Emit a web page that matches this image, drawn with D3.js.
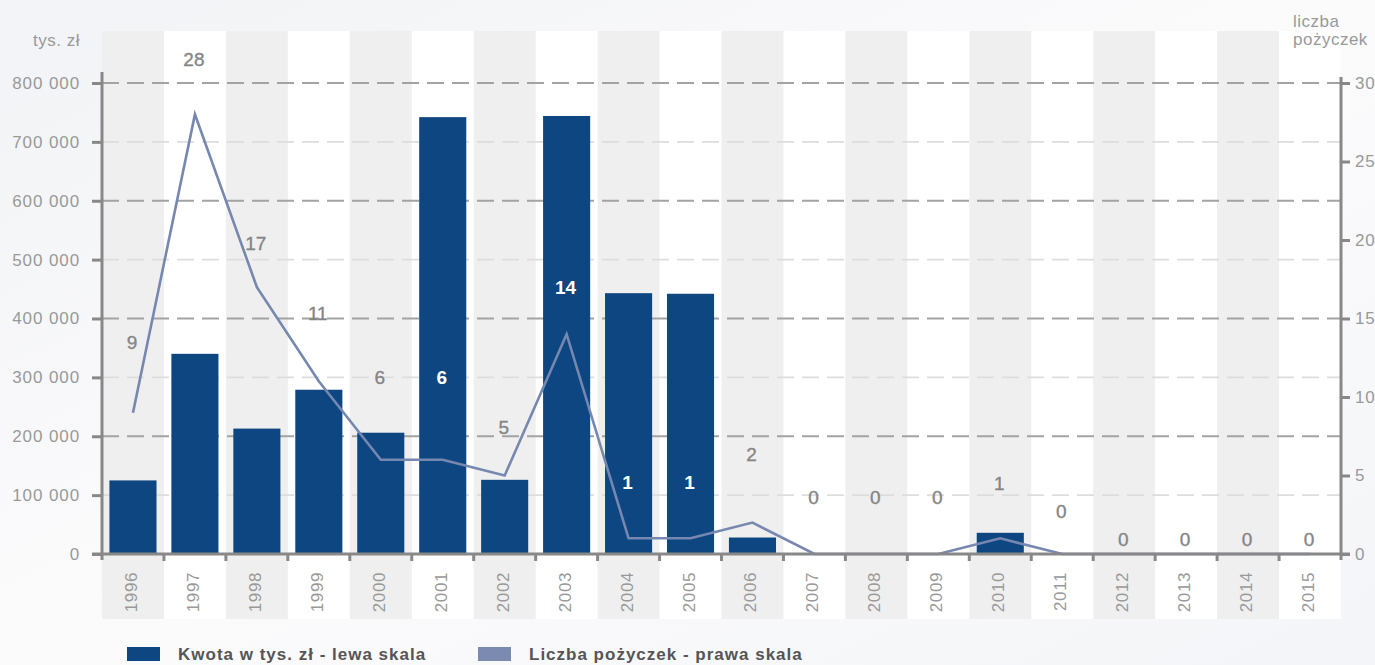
<!DOCTYPE html>
<html>
<head>
<meta charset="utf-8">
<script src="https://cdn.jsdelivr.net/npm/d3@7/dist/d3.min.js"></script>
<style>
  html, body { margin: 0; padding: 0; background: #f6f7f9; }
  svg { display: block; }
  text { font-family: "Liberation Sans", Arial, Helvetica, sans-serif; }
</style>
</head>
<body>
<svg id="chart" width="1375" height="665"></svg>
<script>
// Years on the category axis
const years = ["1996","1997","1998","1999","2000","2001","2002","2003","2004","2005",
               "2006","2007","2008","2009","2010","2011","2012","2013","2014","2015"];
// Loan amount, thousand PLN (left scale)
const amounts = [125000, 340000, 213000, 279000, 206000, 742000, 126000, 744000, 443000, 442000,
                 28000, 0, 0, 0, 36000, 0, 0, 0, 0, 0];
// Number of loans (right scale)
const loans = [9, 28, 17, 11, 6, 6, 5, 14, 1, 1, 2, 0, 0, 0, 1, 0, 0, 0, 0, 0];
// Tick values
const amountTicks = [0, 100000, 200000, 300000, 400000, 500000, 600000, 700000, 800000];
const loanTicks = [0, 5, 10, 15, 20, 25, 30];

// Layout: how far each count label sits above its line point (px)
const labelLift = [71, 55, 44, 68, 83, 83, 49, 47, 56, 56, 69, 57, 57, 57, 55, 43, 15, 15, 15, 15];

const W = 1375, H = 665;
const plotL = 102, plotR = 1341, baseY = 554, topY = 83;
const colTop = 31, colBottom = 619;
const barColor = "#0d4681", lineColor = "#7687b0", axisColor = "#888888";
const textGrey = "#999999";

const svg = d3.select("#chart");

// Background
const defs = svg.append("defs");
const bg = defs.append("linearGradient").attr("id", "bg").attr("x1", 0).attr("y1", 0).attr("x2", 1).attr("y2", 1);
bg.append("stop").attr("offset", "0%").attr("stop-color", "#f2f3f6");
bg.append("stop").attr("offset", "50%").attr("stop-color", "#fbfbfc");
bg.append("stop").attr("offset", "100%").attr("stop-color", "#f4f5f8");
svg.append("rect").attr("width", W).attr("height", H).attr("fill", "url(#bg)");

// Scales
const xCol = d3.scaleBand().domain(years).range([plotL, plotR]).padding(0);
const xBar = d3.scaleBand().domain(years).range([plotL, plotR]).paddingInner(0.24).paddingOuter(0.12);
const yL = d3.scaleLinear().domain([0, 800000]).range([baseY, topY]);
const yR = d3.scaleLinear().domain([0, 30]).range([baseY, topY]);
const step = xCol.step();

// Plot panel with alternating column bands
svg.append("rect").attr("x", plotL).attr("y", colTop).attr("width", plotR - plotL)
   .attr("height", colBottom - colTop).attr("fill", "#ffffff");
svg.append("g").selectAll("rect")
  .data(years.filter((d, i) => i % 2 === 0))
  .join("rect")
  .attr("x", d => xCol(d)).attr("y", colTop)
  .attr("width", step).attr("height", colBottom - colTop)
  .attr("fill", "#efefef");

// Gridlines
svg.append("g").selectAll("line")
  .data(amountTicks.filter(t => t > 0))
  .join("line")
  .attr("x1", plotL).attr("x2", plotR)
  .attr("y1", d => yL(d)).attr("y2", d => yL(d))
  .attr("stroke", d => d % 200000 === 0 ? "#a3a3a3" : "#dddddd")
  .attr("stroke-width", d => d % 200000 === 0 ? 2 : 1.6)
  .attr("stroke-dasharray", "17,8");

// Bars
svg.append("g").selectAll("rect")
  .data(years.map((y, i) => ({ year: y, value: amounts[i] })).filter(d => d.value > 0))
  .join("rect")
  .attr("x", d => xBar(d.year)).attr("width", xBar.bandwidth())
  .attr("y", d => yL(d.value)).attr("height", d => baseY - yL(d.value))
  .attr("fill", barColor);

// Loan count line
const pts = years.map((y, i) => ({ year: y, value: loans[i], i }));
svg.append("path")
  .datum(pts)
  .attr("fill", "none").attr("stroke", lineColor).attr("stroke-width", 2.6)
  .attr("stroke-linejoin", "miter")
  .attr("d", d3.line().x(d => xCol(d.year) + step / 2).y(d => yR(d.value)));

// Left axis
const fmt = v => d3.format(",")(v).replace(/,/g, " ");
const gL = svg.append("g").attr("transform", `translate(${plotL},0)`)
  .call(d3.axisLeft(yL).tickValues(amountTicks).tickFormat(fmt).tickSize(10).tickSizeOuter(0).tickPadding(12));
gL.select(".domain").remove();
gL.selectAll(".tick line").attr("stroke", axisColor).attr("stroke-width", 3);
gL.selectAll(".tick text").attr("fill", textGrey).attr("font-size", 17).attr("letter-spacing", 0.9);
svg.append("line").attr("x1", plotL).attr("x2", plotL).attr("y1", 72).attr("y2", baseY + 6)
   .attr("stroke", axisColor).attr("stroke-width", 3);

// Right axis
const gR = svg.append("g").attr("transform", `translate(${plotR},0)`)
  .call(d3.axisRight(yR).tickValues(loanTicks).tickSize(9).tickSizeOuter(0).tickPadding(5));
gR.select(".domain").remove();
gR.selectAll(".tick line").attr("stroke", axisColor).attr("stroke-width", 3);
gR.selectAll(".tick text").attr("fill", textGrey).attr("font-size", 17).attr("letter-spacing", 0.8);
svg.append("line").attr("x1", plotR).attr("x2", plotR).attr("y1", 77).attr("y2", baseY + 6)
   .attr("stroke", axisColor).attr("stroke-width", 3);

// Category axis
svg.append("line").attr("x1", 92).attr("x2", 1350).attr("y1", baseY).attr("y2", baseY)
   .attr("stroke", axisColor).attr("stroke-width", 3);
svg.append("g").selectAll("line")
  .data(years.slice(1))
  .join("line")
  .attr("x1", d => xCol(d)).attr("x2", d => xCol(d))
  .attr("y1", baseY).attr("y2", baseY + 7)
  .attr("stroke", axisColor).attr("stroke-width", 3);
svg.append("g").selectAll("text")
  .data(years)
  .join("text")
  .attr("transform", d => `translate(${xCol(d) + step / 2 + 4},572) rotate(-90)`)
  .attr("text-anchor", "end")
  .attr("fill", textGrey).attr("font-size", 17).attr("letter-spacing", 0.6)
  .text(d => d);

// Count labels
const inside = d => (yR(d.value) - labelLift[d.i]) > yL(amounts[d.i]) + 10;
svg.append("g").selectAll("text")
  .data(pts)
  .join("text")
  .attr("x", d => xCol(d.year) + step / 2 - 1)
  .attr("y", d => yR(d.value) - labelLift[d.i] + 7)
  .attr("text-anchor", "middle")
  .attr("font-size", 19)
  .attr("fill", d => inside(d) ? "#ffffff" : "#858585")
  .attr("font-weight", d => inside(d) ? "bold" : "normal")
  .attr("stroke", d => inside(d) ? "none" : "#858585")
  .attr("stroke-width", 0.35)
  .text(d => d.value);

// Axis titles
svg.append("text").attr("x", 80).attr("y", 46).attr("text-anchor", "end")
   .attr("fill", textGrey).attr("font-size", 17).attr("letter-spacing", 0.5).text("tys. zł");
svg.append("text").attr("x", 1293).attr("y", 27)
   .attr("fill", textGrey).attr("font-size", 17).attr("letter-spacing", 0.5).text("liczba");
svg.append("text").attr("x", 1293).attr("y", 45)
   .attr("fill", textGrey).attr("font-size", 17).attr("letter-spacing", 0.5).text("pożyczek");

// Legend
const legend = [
  { label: "Kwota w tys. zł - lewa skala", color: barColor, x: 127 },
  { label: "Liczba pożyczek - prawa skala", color: "#7a8ab0", x: 478 }
];
const lg = svg.append("g").selectAll("g").data(legend).join("g")
  .attr("transform", d => `translate(${d.x},0)`);
lg.append("rect").attr("x", 0).attr("y", 647).attr("width", 33).attr("height", 14).attr("fill", d => d.color);
lg.append("text").attr("x", 51).attr("y", 660)
  .attr("fill", "#555555").attr("font-size", 17).attr("font-weight", "bold").attr("letter-spacing", 1)
  .text(d => d.label);
</script>
</body>
</html>
